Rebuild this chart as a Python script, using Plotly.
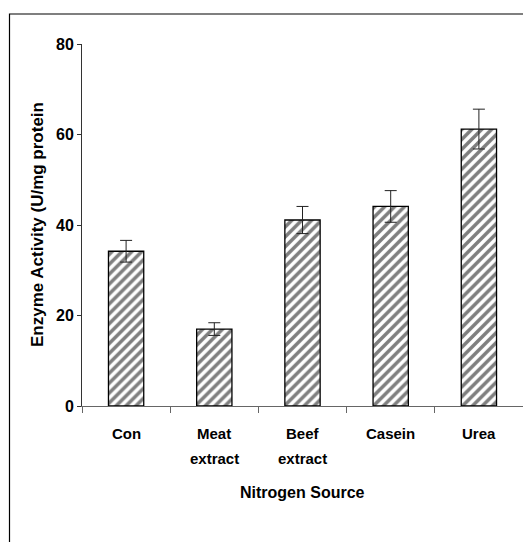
import plotly.graph_objects as go

categories = ["Con", "Meat<br>extract", "Beef<br>extract", "Casein", "Urea"]
activity = [34.2, 17.0, 41.1, 44.1, 61.2]
errors = [2.4, 1.4, 3.0, 3.5, 4.4]
y_ticks = [0, 20, 40, 60, 80]

FONT = "Liberation Sans, Arial, sans-serif"

fig = go.Figure()
fig.add_trace(go.Bar(
    x=categories,
    y=activity,
    width=0.4,
    marker=dict(
        color="white",
        line=dict(color="black", width=1.3),
        pattern=dict(shape="/", size=7, solidity=0.5, fgcolor="black", bgcolor="white"),
    ),
    error_y=dict(type="data", array=errors, visible=True, color="#222", thickness=1, width=6),
    showlegend=False,
))

annotations = []
for cat in categories:
    for i, line in enumerate(cat.split("<br>")):
        annotations.append(dict(
            x=cat, y=0, xref="x", yref="paper", text=f"<b>{line}</b>", showarrow=False,
            yanchor="middle", yshift=-27 - 25 * i, font=dict(family=FONT, size=15, color="black"),
        ))
annotations.append(dict(
    x=0.5, y=0, xref="paper", yref="paper", text="<b>Nitrogen Source</b>", showarrow=False,
    yanchor="middle", yshift=-86, font=dict(family=FONT, size=16, color="black"),
))
annotations.append(dict(
    x=0, y=0.5, xref="paper", yref="paper", text="<b>Enzyme Activity (U/mg protein</b>",
    showarrow=False, textangle=-90, xanchor="center", xshift=-45,
    font=dict(family=FONT, size=17, color="black"),
))

fig.update_layout(
    width=523, height=542,
    margin=dict(l=82, r=0, t=44, b=136, autoexpand=False),
    paper_bgcolor="white", plot_bgcolor="white",
    font=dict(family=FONT, color="black"),
    annotations=annotations,
    shapes=[dict(type="rect", xref="paper", yref="paper", x0=-0.1644, x1=1.2,
                 y0=-0.6, y1=1.0829, line=dict(color="black", width=1.2))],
    xaxis=dict(
        automargin=False,
        showline=True, linecolor="#666", linewidth=1,
        ticks="outside", ticklen=6, tickcolor="#666", tickson="boundaries",
        showticklabels=False, showgrid=False, zeroline=False,
    ),
    yaxis=dict(
        automargin=False,
        range=[0, 80], tickvals=y_ticks,
        tickformat="d",
        showline=True, linecolor="#333", linewidth=1,
        ticks="outside", ticklen=4, tickcolor="#333",
        tickfont=dict(family=FONT, size=16, color="black", weight="bold"),
        showgrid=False, zeroline=False,
    ),
)

fig.write_html(
    "out.html",
    config={"displayModeBar": False},
    post_script="document.body.style.margin='0';document.body.style.overflow='hidden';",
)
